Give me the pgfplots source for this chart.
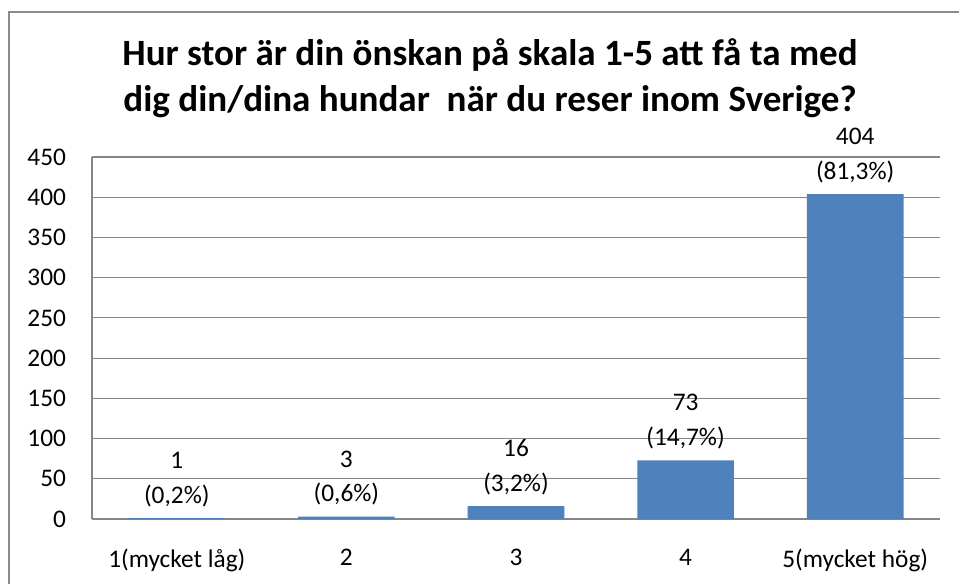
\documentclass[border=0pt]{standalone}
\usepackage{pgfplots}
\pgfplotsset{compat=1.18}
\usepackage{fontspec}
\setmainfont{Carlito}
\definecolor{barblue}{HTML}{4F81BD}
\definecolor{gridgray}{HTML}{868686}
\definecolor{framegray}{HTML}{8C8C8C}
\begin{document}
\begin{tikzpicture}
% page = 959x583 px at 0.75pt per px, plot origin at px (92,519)
\useasboundingbox (-69pt,-48pt) rectangle (650.25pt,389.25pt);
\draw[framegray, line width=1.3pt] (-62.25pt,-80pt) rectangle (700pt,380.25pt);
\node[anchor=base, font=\fontsize{27.8}{32}\selectfont\bfseries] at (298.5pt,340pt)
  {Hur stor är din önskan på skala 1-5 att få ta med};
\node[anchor=base, font=\fontsize{27.8}{32}\selectfont\bfseries] at (298.5pt,306pt)
  {dig din/dina hundar\ \ när du reser inom Sverige?};
\begin{axis}[
    scale only axis,
    width=636pt,
    height=271.5pt,
    at={(0,0)}, anchor=south west,
    ybar,
    bar width=0.57,
    xmin=-0.5, xmax=4.5,
    ymin=0, ymax=450,
    ytick={0,50,...,450},
    xtick=data,
    xticklabels={1(mycket låg),2,3,4,5(mycket hög)},
    major tick length=0,
    axis x line*=bottom,
    axis y line*=left,
    axis line style={-, gridgray, line width=0.9pt},
    ymajorgrids,
    grid style={gridgray, line width=0.9pt},
    tick label style={font=\fontsize{19}{23}\selectfont},
    yticklabel style={xshift=-16pt},
    xticklabel style={yshift=-19pt},
    /pgf/number format/assume math mode=true,
    point meta=explicit symbolic,
    nodes near coords,
    nodes near coords style={align=center, anchor=south, yshift=5pt,
        font=\fontsize{19}{26}\selectfont},
]
\addplot[fill=barblue, draw=none] coordinates {
    (0,1)   [{1\\(0,2\%)}]
    (1,3)   [{3\\(0,6\%)}]
    (2,16)  [{16\\(3,2\%)}]
    (3,73)  [{73\\(14,7\%)}]
    (4,404) [{404\\(81,3\%)}]
};
\end{axis}
\end{tikzpicture}
\end{document}
